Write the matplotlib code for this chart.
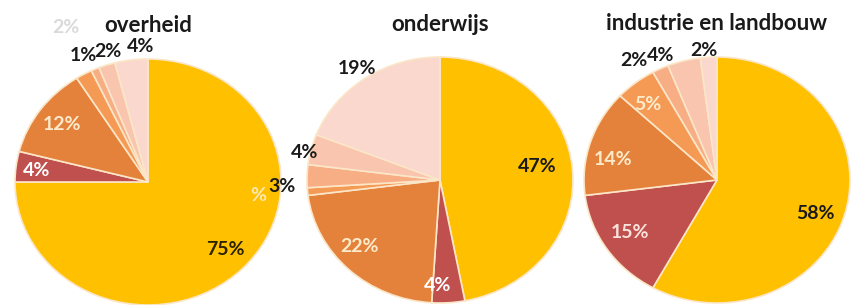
import numpy as np
import matplotlib
matplotlib.use("Agg")
import matplotlib.pyplot as plt

plt.rcParams['font.family'] = ['Lato', 'DejaVu Sans']

# data: one share list per sector, same 7 categories in each pie
titles = ['overheid', 'onderwijs', 'industrie en landbouw']
overheid = [75, 4, 12, 2, 1, 2, 4]
onderwijs = [47, 4, 22, 1, 3, 4, 19]
industrie = [58, 15, 14, 5, 2, 4, 2]
overheid_labels = ['75%', '4%', '12%', '2%', '1%', '2%', '4%']
onderwijs_labels = ['47%', '4%', '22%', '', '3%', '4%', '19%']
industrie_labels = ['58%', '15%', '14%', '5%', '2%', '4%', '2%']

# colours per category
colors = ['#FFC000', '#C0504D', '#E4823C', '#F59A55', '#F8AE85', '#F9C5AE', '#FAD8CE']
edge = '#FBE6C8'

# label placement (radius in pie units, angle nudge in degrees, colour)
overheid_r = [0.80, 0.84, 0.80, 1.40, 1.14, 1.10, 1.10]
overheid_nudge = [2, 1, 0, -2.5, 2, -2, -4.4]
overheid_tc = ['#2b2200', 'white', '#FCEBCB', '#DADADA', '#1a1a1a', '#1a1a1a', '#1a1a1a']
onderwijs_r = [0.74, 0.86, 0.81, 1.0, 1.19, 1.045, 1.10]
onderwijs_nudge = [3, -4.6, -5, 0, 4.5, 2, 0.5]
onderwijs_tc = ['#1a1a1a', 'white', '#FCEBCB', 'white', '#1a1a1a', '#1a1a1a', '#1a1a1a']
industrie_r = [0.79, 0.78, 0.80, 0.80, 1.16, 1.10, 1.06]
industrie_nudge = [-6, -0.7, 5.7, 2.4, 7.6, 8.3, 1.8]
industrie_tc = ['#1a1a1a', '#FBE3DD', '#FCEBCB', '#FCEBCB', '#1a1a1a', '#1a1a1a', '#1a1a1a']

W, H = 864, 305
rx, ry = 133, 123
pad = 1.1
centers = [(148, 182), (440, 180), (717, 180)]
title_y = [1.22, 1.21, 1.22]

fig = plt.figure(figsize=(W / 100, H / 100), dpi=100)
fig.patch.set_facecolor('white')

series = [
    (overheid, overheid_labels, overheid_r, overheid_nudge, overheid_tc),
    (onderwijs, onderwijs_labels, onderwijs_r, onderwijs_nudge, onderwijs_tc),
    (industrie, industrie_labels, industrie_r, industrie_nudge, industrie_tc),
]

for i, (vals, labs, rs, nudges, tcs) in enumerate(series):
    cx, cy = centers[i]
    ax = fig.add_axes([(cx - pad * rx) / W, (H - cy - pad * ry) / H,
                       2 * pad * rx / W, 2 * pad * ry / H])
    wedges, _ = ax.pie(vals, colors=colors, startangle=90, counterclock=False,
                       wedgeprops=dict(edgecolor=edge, linewidth=1.2))
    ax.set_aspect('auto')
    ax.set_xlim(-pad, pad)
    ax.set_ylim(-pad, pad)
    for w, lab, r, nd, tc in zip(wedges, labs, rs, nudges, tcs):
        if not lab:
            continue
        mid = np.deg2rad((w.theta1 + w.theta2) / 2 + nd)
        ax.text(r * np.cos(mid), r * np.sin(mid), lab, ha='center', va='center',
                fontsize=14, fontweight='bold', color=tc)
    ax.text(0, title_y[i], titles[i], ha='center', va='baseline',
            fontsize=16, fontweight='bold', color='#1a1a1a')
    if i == 0:
        # stray half-hidden label inside the yellow slice
        ax.text(0.83, -0.11, '%', ha='center', va='center', fontsize=14,
                fontweight='bold', color='#FDE9B0')

fig.savefig('out.png', dpi=100, facecolor='white')
